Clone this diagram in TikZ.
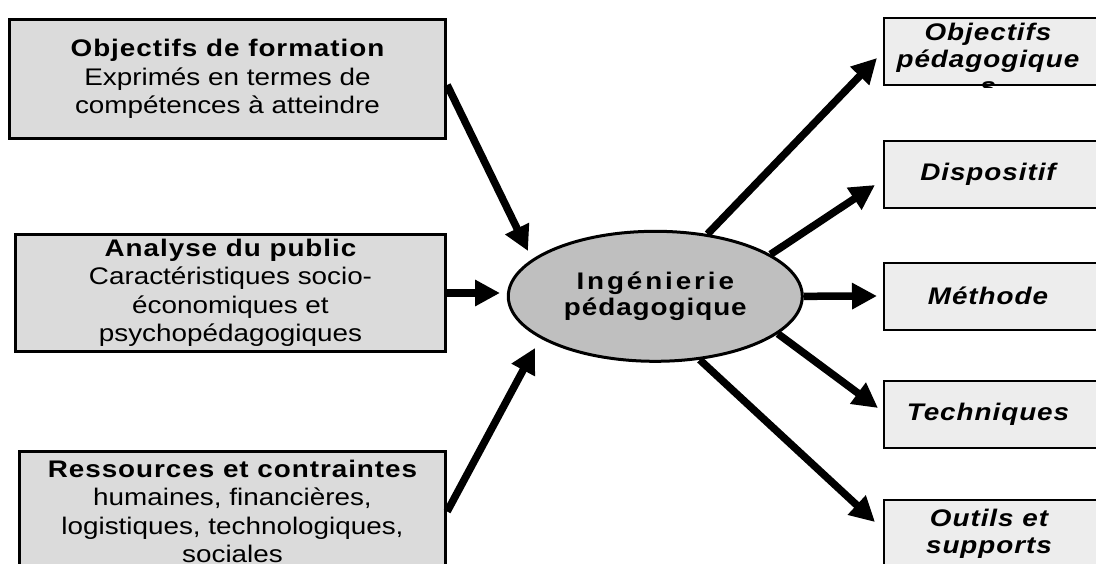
\documentclass[tikz,border=0pt]{standalone}
\usepackage{fontspec}
\setmainfont{Liberation Sans}[FakeStretch=1.16]
\usepackage{tikz}
\usetikzlibrary{arrows.meta}
\usetikzlibrary{shapes.geometric}

\definecolor{leftgray}{gray}{0.86}
\definecolor{rightgray}{gray}{0.93}
\definecolor{coregray}{gray}{0.75}

\newcommand{\spacedbf}[1]{{\bfseries\addfontfeature{LetterSpace=4}#1}}

\tikzset{
	inbox/.style={draw=black, line width=3.3pt, fill=leftgray, align=center, inner sep=0pt,
		font=\fontsize{24}{28.5}\selectfont},
	outbox/.style={draw=black, line width=2pt, fill=rightgray, anchor=west,
		minimum width=222pt, minimum height=67pt, inner sep=0pt},
	outtext/.style={align=center, inner sep=0pt,
		font=\fontsize{24}{27}\selectfont\bfseries\itshape\addfontfeature{LetterSpace=4}},
	core/.style={ellipse, draw=black, line width=3pt, fill=coregray, align=center, inner sep=0pt,
		minimum width=294pt, minimum height=130pt,
		font=\fontsize{24}{26}\selectfont\bfseries\addfontfeature{LetterSpace=4}},
	bigarrow/.style={draw=black, line width=7.5pt, -{Triangle[length=25pt,width=25pt]}},
}

\begin{document}
\begin{tikzpicture}[x=1pt, y=-1pt]
	\useasboundingbox (0,0) rectangle (1096,563);
	% Input boxes
	\node [inbox, minimum width=436pt, minimum height=119pt] (obj) at (227.5,79)
		{\spacedbf{Objectifs de formation}\\Exprimés en termes de\\compétences à atteindre};
	\node [inbox, minimum width=430pt, minimum height=117pt] (pub) at (230.5,293)
		{\spacedbf{Analyse du public}\\Caractéristiques socio-\\économiques et\\psychopédagogiques};
	\node [inbox, minimum width=426pt, minimum height=120pt] (res) at (232.5,511.5)
		{\spacedbf{Ressources et contraintes}\\humaines, financières,\\logistiques, technologiques,\\sociales};
	% Centre
	\node [core] (core) at (655.3,296.3)
		{{\addfontfeature{LetterSpace=12}Ingénierie}\\pédagogique};
	% Output boxes
	\node [outbox] (bobj) at (883,51.5) {};
	\node [outbox] (bdisp) at (883,174.5) {};
	\node [outbox] (bmeth) at (883,296) {};
	\node [outbox] (btech) at (883,414) {};
	\node [outbox] (bout) at (883,533.5) {};
	\begin{scope}
		\clip (bobj.north west) rectangle ([yshift=-1pt]bobj.south east);
		\node [outtext] (tobj) at (988,59) {Objectifs\\pédagogique\\s};
	\end{scope}
	\node [outtext] (tdisp) at (988,174.5) {Dispositif};
	\node [outtext] (tmeth) at (988,296) {Méthode};
	\node [outtext] (ttech) at (988,414) {Techniques};
	\node [outtext] (tout) at (989,533.5) {Outils et\\supports};
	% Incoming arrows
	\coordinate (in1) at (528,251);
	\coordinate (in2) at (500,293);
	\coordinate (in3) at (535,348);
	\draw [bigarrow] ([yshift=-6pt]obj.east) -- (in1);
	\draw [bigarrow] (pub.east) -- (in2);
	\draw [bigarrow] (res.east) -- (in3);
	% Outgoing arrows
	\coordinate (out1) at (877,58);
	\coordinate (out2) at (875,185);
	\coordinate (out3) at (877,296);
	\coordinate (out4) at (878,408);
	\coordinate (out5) at (875,522);
	\draw [bigarrow] (core.50) -- (out1);
	\draw [bigarrow] (core.20) -- (out2);
	\draw [bigarrow] (core.east) -- (out3);
	\draw [bigarrow] (core.-17) -- (out4);
	\draw [bigarrow] (core.-55) -- (out5);
\end{tikzpicture}
\end{document}
